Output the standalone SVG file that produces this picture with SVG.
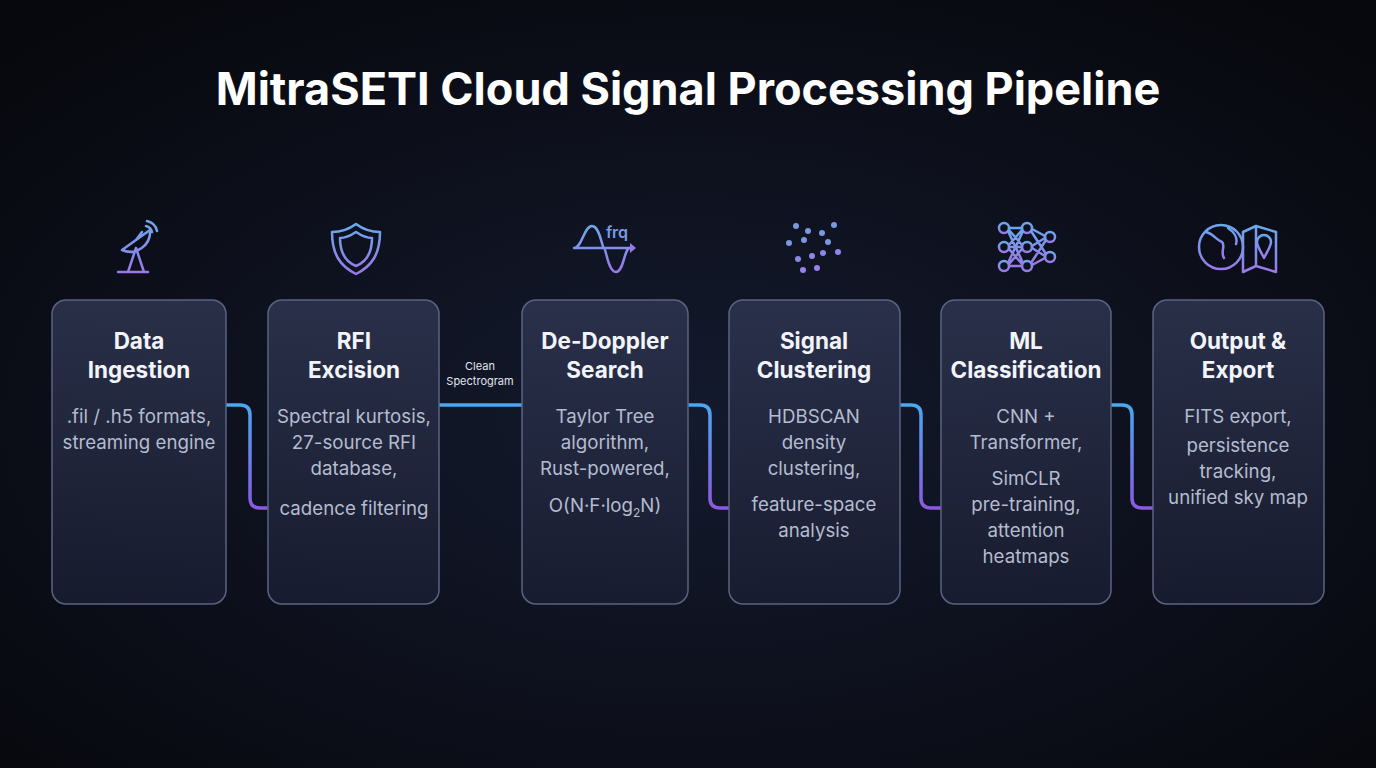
<svg xmlns="http://www.w3.org/2000/svg" width="1376" height="768" viewBox="0 0 1376 768">
<defs>
<radialGradient id="bg" cx="0.5" cy="0.55" r="0.7"><stop offset="0" stop-color="#141a2e"/><stop offset="1" stop-color="#07080d"/></radialGradient>
<linearGradient id="box" x1="0" y1="0" x2="0" y2="1"><stop offset="0" stop-color="#2e3550" stop-opacity="0.85"/><stop offset="1" stop-color="#1a1e33" stop-opacity="0.8"/></linearGradient>
<linearGradient id="conn" x1="0" y1="0" x2="0" y2="1"><stop offset="0" stop-color="#4aa8f0"/><stop offset="1" stop-color="#8a5ae0"/></linearGradient>
<linearGradient id="ic" x1="0" y1="0" x2="0" y2="1"><stop offset="0" stop-color="#6aa8ee"/><stop offset="1" stop-color="#9a78e8"/></linearGradient>
</defs>
<style>
.bx{fill:url(#box);stroke:#5a6382;stroke-width:1.5}
.t{font-family:Inter,"Liberation Sans",sans-serif;font-weight:700;font-size:22.5px;fill:#f2f4fa;text-anchor:middle}
.b{font-family:Inter,"Liberation Sans",sans-serif;font-size:18.7px;fill:#b4bccf;text-anchor:middle}
.c{fill:none;stroke:url(#conn);stroke-width:3.5}
.i{fill:none;stroke:url(#ic);stroke-width:2.5;stroke-linecap:round;stroke-linejoin:round}
</style>
<rect width="1376" height="768" fill="url(#bg)"/>
<text x="688" y="105" font-family="Inter,'Liberation Sans',sans-serif" font-weight="700" font-size="45" fill="#ffffff" text-anchor="middle">MitraSETI Cloud Signal Processing Pipeline</text>

<g id="connectors">
<path class="c" d="M226,405 H240 Q250,405 250,415 V498 Q250,508 260,508 H268"/>
<path d="M439,405 H522" fill="none" stroke="#4aa8f0" stroke-width="3.5"/>
<text x="480" y="370" font-family="Inter,'Liberation Sans',sans-serif" font-size="11" fill="#e0e4ee" text-anchor="middle">Clean</text>
<text x="480" y="385" font-family="Inter,'Liberation Sans',sans-serif" font-size="11" fill="#e0e4ee" text-anchor="middle">Spectrogram</text>
<path class="c" d="M688,405 H700 Q710,405 710,415 V498 Q710,508 720,508 H729"/>
<path class="c" d="M900,405 H911 Q921,405 921,415 V498 Q921,508 931,508 H941"/>
<path class="c" d="M1111,405 H1122 Q1132,405 1132,415 V498 Q1132,508 1142,508 H1153"/>
</g>

<g id="n1">
<path class="i" d="M122,250 a20,20 0 0 0 28,-20 z M136,248 L128,272 M136,248 L144,272 M118,272 H148 M136,240 l6,-8 M146,226 a8,8 0 0 1 6,6 M147,221 a13,13 0 0 1 10,10"/>
<rect class="bx" x="52" y="300" width="174" height="304" rx="14"/>
<text class="t" x="139" y="349">Data</text><text class="t" x="139" y="378">Ingestion</text>
<text class="b" x="139" y="423">.fil / .h5 formats,</text><text class="b" x="139" y="449">streaming engine</text>
</g>
<g id="n2">
<path class="i" d="M356,224 C364,230 372,232 380,232 C380,254 372,266 356,274 C340,266 332,254 332,232 C340,232 348,230 356,224 Z M356,232 C362,236 366,238 372,238 C372,254 366,262 356,266 C346,262 340,254 340,238 C346,238 350,236 356,232 Z"/>
<rect class="bx" x="268" y="300" width="171" height="304" rx="14"/>
<text class="t" x="354" y="349">RFI</text><text class="t" x="354" y="378">Excision</text>
<text class="b" x="354" y="423">Spectral kurtosis,</text><text class="b" x="354" y="449">27-source RFI</text><text class="b" x="354" y="475">database,</text><text class="b" x="354" y="515">cadence filtering</text>
</g>
<g id="n3">
<path class="i" d="M574,248 C582,248 584,226 592,226 C600,226 602,248 604,248 C606,248 608,272 616,272 C624,272 624,248 630,248 M574,248 H632"/>
<path d="M630,243 L636,248 L630,253 Z" fill="#9a78e8"/>
<text x="617" y="238" font-family="Inter,'Liberation Sans',sans-serif" font-size="16" font-weight="600" fill="#7a9ae8" text-anchor="middle">frq</text>
<rect class="bx" x="522" y="300" width="166" height="304" rx="14"/>
<text class="t" x="605" y="349">De-Doppler</text><text class="t" x="605" y="378">Search</text>
<text class="b" x="605" y="423">Taylor Tree</text><text class="b" x="605" y="449">algorithm,</text><text class="b" x="605" y="475">Rust-powered,</text><text class="b" x="605" y="512">O(N·F·log<tspan font-size="12" dy="5">2</tspan><tspan dy="-5">N)</tspan></text>
</g>
<g id="n4" fill="#7a98e0">
<circle cx="796" cy="226" r="3"/><circle cx="808" cy="231" r="3"/><circle cx="822" cy="233" r="3"/><circle cx="834" cy="225" r="3"/>
<circle cx="789" cy="243" r="3"/><circle cx="804" cy="240" r="3"/><circle cx="828" cy="242" r="3"/>
<circle cx="798" cy="259" r="3" fill="#8a88e6"/><circle cx="812" cy="256" r="3" fill="#8a88e6"/><circle cx="823" cy="253" r="3" fill="#8a88e6"/><circle cx="838" cy="252" r="3" fill="#8a88e6"/>
<circle cx="803" cy="270" r="3" fill="#9a82e8"/><circle cx="817" cy="268" r="3" fill="#9a82e8"/>
<rect class="bx" x="729" y="300" width="171" height="304" rx="14"/>
<text class="t" x="814" y="349">Signal</text><text class="t" x="814" y="378">Clustering</text>
<text class="b" x="814" y="423">HDBSCAN</text><text class="b" x="814" y="449">density</text><text class="b" x="814" y="475">clustering,</text><text class="b" x="814" y="511">feature-space</text><text class="b" x="814" y="537">analysis</text>
</g>
<g id="n5">
<g class="i" stroke-width="2">
<circle cx="1004" cy="228" r="5"/><circle cx="1004" cy="247" r="5"/><circle cx="1004" cy="266" r="5"/>
<circle cx="1027" cy="228" r="5"/><circle cx="1027" cy="247" r="5"/><circle cx="1027" cy="266" r="5"/>
<circle cx="1050" cy="237" r="5"/><circle cx="1050" cy="257" r="5"/>
<path d="M1009,228 H1022 M1009,247 H1022 M1009,266 H1022 M1008,231 L1023,263 M1008,263 L1023,231 M1009,230 L1022,245 M1009,245 L1022,230 M1009,249 L1022,264 M1009,264 L1022,249 M1032,229 L1045,236 M1032,246 L1045,238 M1032,248 L1045,256 M1032,265 L1045,258 M1031,231 L1046,254 M1031,263 L1046,240"/>
</g>
<rect class="bx" x="941" y="300" width="170" height="304" rx="14"/>
<text class="t" x="1026" y="349">ML</text><text class="t" x="1026" y="378">Classification</text>
<text class="b" x="1026" y="423">CNN +</text><text class="b" x="1026" y="449">Transformer,</text><text class="b" x="1026" y="485">SimCLR</text><text class="b" x="1026" y="511">pre-training,</text><text class="b" x="1026" y="537">attention</text><text class="b" x="1026" y="563">heatmaps</text>
</g>
<g id="n6">
<g class="i">
<circle cx="1221" cy="247" r="22"/>
<path d="M1206,232 C1214,234 1216,240 1222,242 C1226,246 1220,252 1224,258 M1228,228 C1234,232 1238,238 1236,244"/>
<path d="M1243,232 L1256,226 V266 L1243,272 Z M1256,226 L1276,232 V272 L1256,266"/>
<path d="M1264,258 C1260,250 1257,246 1257,242 a7,7 0 0 1 14,0 C1271,246 1268,250 1264,258 Z"/>
</g>
<rect class="bx" x="1153" y="300" width="171" height="304" rx="14"/>
<text class="t" x="1238" y="349">Output &amp;</text><text class="t" x="1238" y="378">Export</text>
<text class="b" x="1238" y="423">FITS export,</text><text class="b" x="1238" y="452">persistence</text><text class="b" x="1238" y="478">tracking,</text><text class="b" x="1238" y="504">unified sky map</text>
</g>
</svg>
